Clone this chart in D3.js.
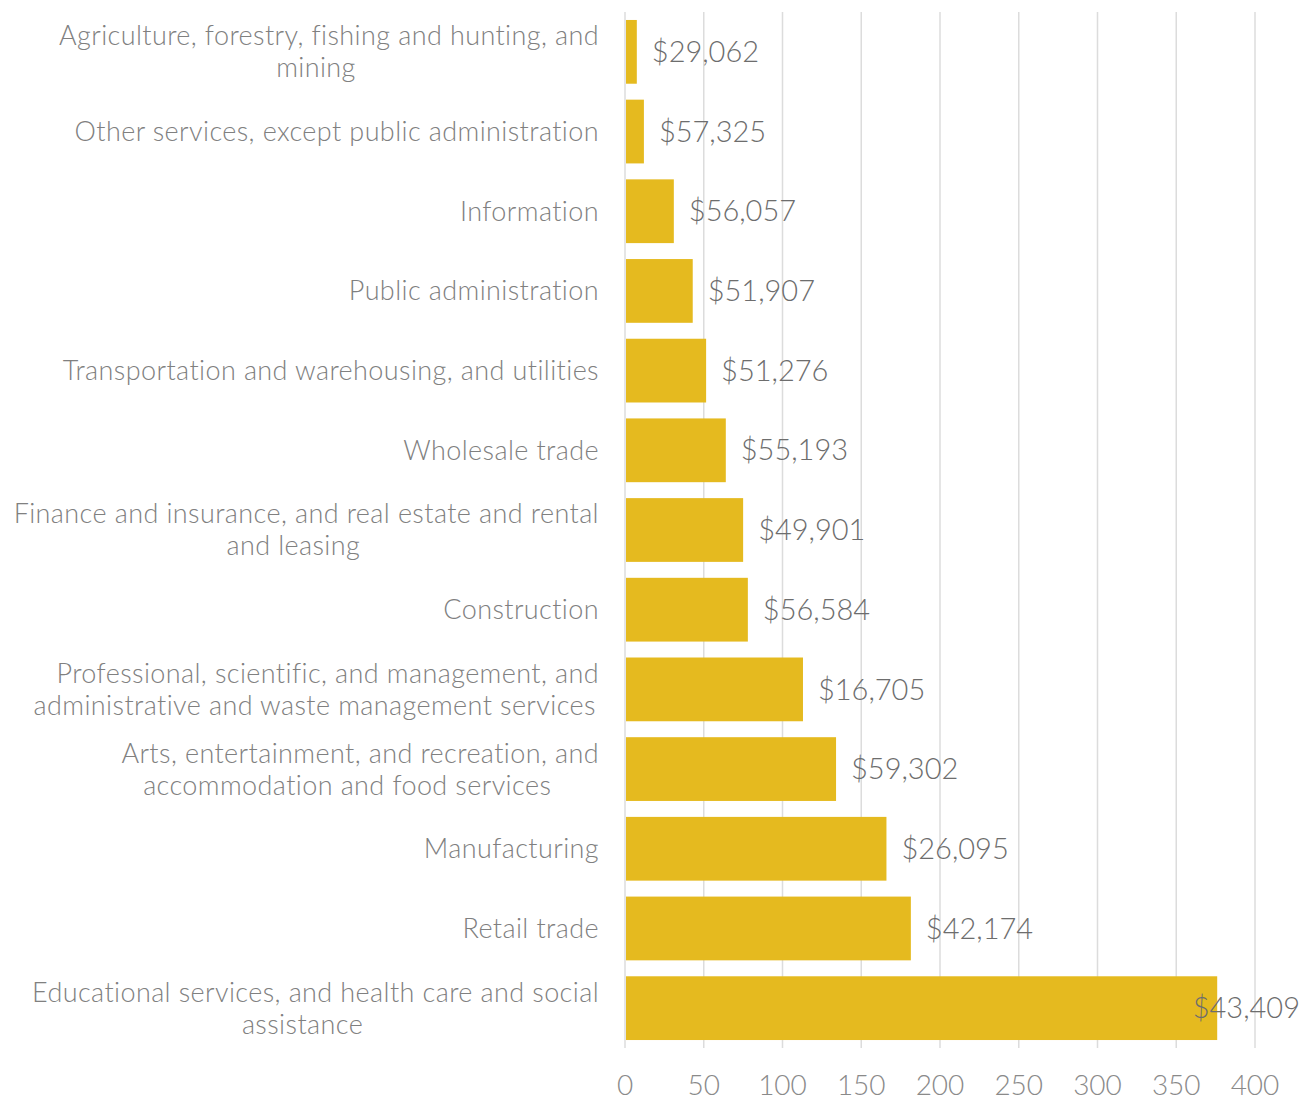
<!DOCTYPE html>
<html><head><meta charset="utf-8">
<script src="https://cdn.jsdelivr.net/npm/d3@7"></script>
<style>
body{margin:0;background:#fff}
text{font-family:Lato,"Open Sans",sans-serif;font-weight:300}
</style>
</head><body>
<svg id="c" width="1313" height="1100"></svg>
<script>
const categories = [
  "Agriculture, forestry, fishing and hunting, and\nmining",
  "Other services, except public administration",
  "Information",
  "Public administration",
  "Transportation and warehousing, and utilities",
  "Wholesale trade",
  "Finance and insurance, and real estate and rental\nand leasing",
  "Construction",
  "Professional, scientific, and management, and\nadministrative and waste management services",
  "Arts, entertainment, and recreation, and\naccommodation and food services",
  "Manufacturing",
  "Retail trade",
  "Educational services, and health care and social\nassistance"
];
const counts = [7.5, 12, 31, 43, 51.5, 64, 75, 78, 113, 134, 166, 181.5, 376];
const earnings = ["$29,062","$57,325","$56,057","$51,907","$51,276","$55,193","$49,901","$56,584","$16,705","$59,302","$26,095","$42,174","$43,409"];
const xTicks = [0, 50, 100, 150, 200, 250, 300, 350, 400];

const svg = d3.select("#c");
const x = d3.scaleLinear().domain([0, 400]).range([625, 1255]);
const y = d3.scaleBand().domain(categories).range([12, 1048]).paddingInner(0.2).paddingOuter(0.1);
const chartRight = 1300;

// gridlines
svg.append("g").selectAll("line").data(xTicks).join("line")
  .attr("x1", d => x(d)).attr("x2", d => x(d))
  .attr("y1", 12).attr("y2", 1048)
  .attr("stroke", "#dcdcdc").attr("stroke-width", 1.5);

// bars
svg.append("g").selectAll("rect").data(counts).join("rect")
  .attr("x", x(0) + 1)
  .attr("y", (d, i) => y(categories[i]))
  .attr("width", d => x(d) - x(0) - 1)
  .attr("height", y.bandwidth())
  .attr("fill", "#E5BA1F");

// value labels
const vl = svg.append("g").selectAll("text").data(counts).join("text")
  .attr("y", (d, i) => y(categories[i]) + y.bandwidth() / 2)
  .attr("dy", "0.35em")
  .attr("font-size", 29)
  .attr("fill", "#6d6d6d")
  .text((d, i) => earnings[i]);
vl.each(function(d) {
  const w = this.getComputedTextLength();
  let px = x(d) + 15;
  if (px + w > chartRight) px = chartRight - w;
  d3.select(this).attr("x", px);
});

// category labels
const cl = svg.append("g");
const catStyle = t => t.attr("font-size", 27).attr("letter-spacing", 0.4).attr("fill", "#808080");
categories.forEach(c => {
  const lines = c.split("\n");
  const cy = y(c) + y.bandwidth() / 2;
  if (lines.length === 1) {
    cl.append("text").attr("x", 599).attr("y", cy).attr("dy", "0.35em")
      .attr("text-anchor", "end").call(catStyle).text(lines[0]);
  } else {
    const t1 = cl.append("text").attr("x", 599).attr("y", cy - 16).attr("dy", "0.35em")
      .attr("text-anchor", "end").call(catStyle).text(lines[0]);
    const w1 = t1.node().getComputedTextLength();
    const center = 599 - w1 / 2 - 13;
    cl.append("text").attr("x", center).attr("y", cy + 16).attr("dy", "0.35em")
      .attr("text-anchor", "middle").call(catStyle).text(lines[1]);
  }
});

// x axis tick labels
svg.append("g").selectAll("text").data(xTicks).join("text")
  .attr("x", d => x(d)).attr("y", 1085).attr("dy", "0.35em")
  .attr("text-anchor", "middle").attr("font-size", 28).attr("fill", "#8a8a8a")
  .text(d => d);
</script>
</body></html>
